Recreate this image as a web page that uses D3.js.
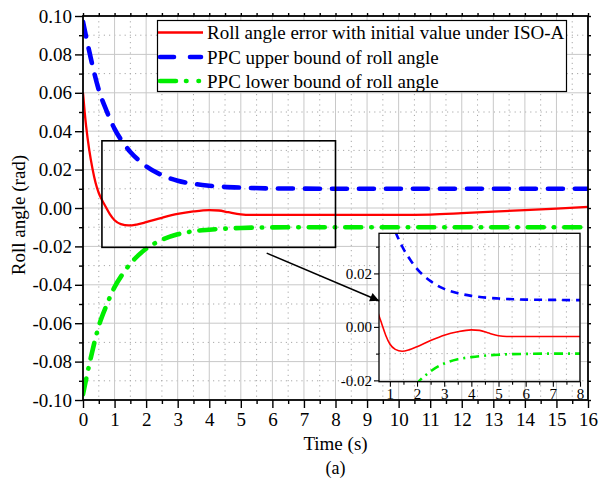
<!DOCTYPE html>
<html>
<head>
<meta charset="utf-8">
<script src="https://cdn.jsdelivr.net/npm/d3@7/dist/d3.min.js"></script>
<style>
  html, body { margin: 0; padding: 0; background: #fff; }
  svg { display: block; }
  svg text { font-family: "Liberation Serif", "Times New Roman", serif; fill: #000; }
</style>
</head>
<body>
<svg id="chart" width="599" height="485" font-family="Liberation Serif, Times New Roman, serif"></svg>
<script>
// ---------------- DATA ----------------
const timeBound = [0, 0.25, 0.5, 0.75, 1, 1.25, 1.5, 1.75, 2, 2.5, 3, 3.5, 4, 5, 6, 7, 8, 10, 12, 14, 16];
const upperBound = [0.097, 0.0778, 0.0615, 0.0505, 0.0412, 0.0345, 0.0292, 0.0251, 0.0217, 0.0171, 0.0142, 0.0126, 0.0116, 0.0106, 0.0102, 0.0101, 0.0100, 0.0100, 0.0100, 0.0100, 0.0100];
const lowerBound = [-0.097, -0.0778, -0.0615, -0.0505, -0.0412, -0.0345, -0.0290, -0.0247, -0.0212, -0.0166, -0.0137, -0.0121, -0.0113, -0.0104, -0.0101, -0.0100, -0.0100, -0.0100, -0.0100, -0.0100, -0.0100];

const timeError = [0, 0.05, 0.1, 0.2, 0.3, 0.4, 0.5, 0.6, 0.7, 0.85, 1.0, 1.2, 1.45, 1.7, 2.0, 2.5, 3.0, 3.5, 4.0, 4.3, 4.6, 5.0, 5.3, 6, 8, 10, 11, 12, 13, 14, 15, 16];
const rollError = [0.060, 0.0505, 0.0425, 0.0300, 0.0205, 0.0130, 0.0078, 0.0042, 0.0012, -0.0032, -0.0064, -0.0084, -0.0091, -0.0086, -0.0074, -0.0051, -0.0031, -0.0018, -0.0011, -0.0013, -0.0022, -0.0033, -0.0036, -0.0036, -0.0036, -0.0036, -0.0034, -0.0027, -0.0019, -0.0011, -0.0003, 0.0006];

const xTicks = d3.range(0, 17, 1);
const xMinor = d3.range(0.5, 16, 1);
const yTicks = [-0.10, -0.08, -0.06, -0.04, -0.02, 0.00, 0.02, 0.04, 0.06, 0.08, 0.10];
const yMinor = [-0.09, -0.07, -0.05, -0.03, -0.01, 0.01, 0.03, 0.05, 0.07, 0.09];

const insetXTicks = [1, 2, 3, 4, 5, 6, 7, 8];
const insetXMinor = [1.5, 2.5, 3.5, 4.5, 5.5, 6.5, 7.5];
const insetYTicks = [-0.02, 0.00, 0.02];
const insetYMinor = [-0.01, 0.01, 0.03];

const legendLabels = [
  "Roll angle error with initial value under ISO-A",
  "PPC upper bound of roll angle",
  "PPC lower bound of roll angle"
];
const xTitle = "Time (s)";
const yTitle = "Roll angle (rad)";
const caption = "(a)";

// zoom window and arrow annotation (data coords)
const zoomWin = { t0: 0.6, t1: 8, v0: -0.0205, v1: 0.035 };
const arrowFrom = [5.82, -0.0235];
const arrowTo = [9.38, -0.0483];

// ---------------- LAYOUT ----------------
const FONT = "Liberation Serif, Times New Roman, serif";
const svg = d3.select("#chart");
const M = { left: 83, right: 588, top: 16, bottom: 400 };
const x = d3.scaleLinear().domain([0, 16]).range([M.left, M.right]);
const y = d3.scaleLinear().domain([-0.10, 0.10]).range([M.bottom, M.top]);

const IN = { left: 379, right: 580, top: 233.3, bottom: 381.7 };
const xi = d3.scaleLinear().domain([zoomWin.t0, zoomWin.t1]).range([IN.left, IN.right]);
const yi = d3.scaleLinear().domain([zoomWin.v0, zoomWin.v1]).range([IN.bottom, IN.top]);

const COLORS = { err: "#ff0000", up: "#0000ff", low: "#00ee00" };
const GRID_SOLID = "#c8c8c8";
const GRID_DOT = "#a8a8a8";

const defs = svg.append("defs");
defs.append("clipPath").attr("id", "clipMain").append("rect")
  .attr("x", M.left).attr("y", M.top).attr("width", M.right - M.left).attr("height", M.bottom - M.top);
defs.append("clipPath").attr("id", "clipInset").append("rect")
  .attr("x", IN.left).attr("y", IN.top).attr("width", IN.right - IN.left).attr("height", IN.bottom - IN.top);
defs.append("marker").attr("id", "arrowHead")
  .attr("viewBox", "0 0 10 10").attr("refX", 10).attr("refY", 5)
  .attr("markerWidth", 12).attr("markerHeight", 9).attr("markerUnits", "userSpaceOnUse")
  .attr("orient", "auto")
  .append("path").attr("d", "M0,0 L10,5 L0,10 Z").attr("fill", "#000");

function grid(g, xs, ys, xMaj, xMin, yMaj, yMin, box) {
  const gg = g.append("g");
  xMin.forEach(t => gg.append("line").attr("x1", xs(t)).attr("x2", xs(t)).attr("y1", box.top).attr("y2", box.bottom)
    .attr("stroke", GRID_DOT).attr("stroke-width", 1).attr("stroke-dasharray", "1.2,4"));
  yMin.forEach(v => gg.append("line").attr("y1", ys(v)).attr("y2", ys(v)).attr("x1", box.left).attr("x2", box.right)
    .attr("stroke", GRID_DOT).attr("stroke-width", 1).attr("stroke-dasharray", "1.2,4"));
  xMaj.forEach(t => gg.append("line").attr("x1", xs(t)).attr("x2", xs(t)).attr("y1", box.top).attr("y2", box.bottom)
    .attr("stroke", GRID_SOLID).attr("stroke-width", 1));
  yMaj.forEach(v => gg.append("line").attr("y1", ys(v)).attr("y2", ys(v)).attr("x1", box.left).attr("x2", box.right)
    .attr("stroke", GRID_SOLID).attr("stroke-width", 1));
}

// ---------------- MAIN GRID ----------------
grid(svg, x, y, xTicks.slice(1, -1), xMinor, yTicks.slice(1, -1), yMinor, M);

// ---------------- MAIN LINES ----------------
const lineMain = (ts, vs) => d3.line().curve(d3.curveMonotoneX).x((d, i) => x(ts[i])).y(d => y(d))(vs);
const gMain = svg.append("g").attr("clip-path", "url(#clipMain)");
gMain.append("path").attr("d", lineMain(timeBound, upperBound))
  .attr("fill", "none").attr("stroke", COLORS.up).attr("stroke-width", 4.6)
  .attr("stroke-dasharray", "15,12").attr("stroke-linecap", "round");
gMain.append("path").attr("d", lineMain(timeBound, lowerBound))
  .attr("fill", "none").attr("stroke", COLORS.low).attr("stroke-width", 4.6)
  .attr("stroke-dasharray", "16,10,0.5,10").attr("stroke-linecap", "round");
gMain.append("path").attr("d", lineMain(timeError, rollError))
  .attr("fill", "none").attr("stroke", COLORS.err).attr("stroke-width", 2.3);

// zoom window rect
svg.append("rect")
  .attr("x", x(zoomWin.t0)).attr("y", y(zoomWin.v1))
  .attr("width", x(zoomWin.t1) - x(zoomWin.t0)).attr("height", y(zoomWin.v0) - y(zoomWin.v1))
  .attr("fill", "none").attr("stroke", "#000").attr("stroke-width", 1.6);

// ---------------- MAIN AXES ----------------
function styleAxis(g, size) {
  g.attr("font-family", FONT).attr("font-size", size || 19);
  g.select(".domain").remove();
  g.selectAll("line").attr("stroke", "#000").attr("stroke-width", 1.4);
  g.selectAll("text").attr("fill", "#000").attr("font-family", FONT).style("font-family", FONT);
  if (size) g.selectAll("text").style("font-size", size + "px");
}
const fmtY = d => (d < 0 ? "-" : "") + Math.abs(d).toFixed(2);

svg.append("g").attr("transform", `translate(0,${M.bottom})`)
  .call(d3.axisBottom(x).tickValues(xMinor).tickSize(4).tickFormat("")).call(styleAxis);
svg.append("g").attr("transform", `translate(0,${M.bottom})`)
  .call(d3.axisBottom(x).tickValues(xTicks).tickSize(8).tickPadding(5).tickFormat(d3.format("d")))
  .call(g => styleAxis(g, 19));

svg.append("g").attr("transform", `translate(${M.left},0)`)
  .call(d3.axisLeft(y).tickValues(yMinor).tickSize(4).tickFormat("")).call(styleAxis);
svg.append("g").attr("transform", `translate(${M.left},0)`)
  .call(d3.axisLeft(y).tickValues(yTicks).tickSize(8).tickPadding(3).tickFormat(fmtY))
  .call(g => styleAxis(g, 19));

svg.append("g").attr("transform", `translate(${M.right},0)`)
  .call(d3.axisRight(y).tickValues(yMinor.concat(yTicks)).tickSize(3).tickFormat("")).call(styleAxis);
svg.append("g").attr("transform", `translate(0,${M.top})`)
  .call(d3.axisTop(x).tickValues(xMinor.concat(xTicks)).tickSize(3).tickFormat("")).call(styleAxis);

// frame
svg.append("rect").attr("x", M.left).attr("y", M.top)
  .attr("width", M.right - M.left).attr("height", M.bottom - M.top)
  .attr("fill", "none").attr("stroke", "#000").attr("stroke-width", 1.8);

// titles
svg.append("text").attr("x", (M.left + M.right) / 2).attr("y", 450)
  .attr("text-anchor", "middle").style("font-size", "19px").text(xTitle);
svg.append("text").attr("transform", "translate(25,215) rotate(-90)")
  .attr("text-anchor", "middle").style("font-size", "19px").text(yTitle);
svg.append("text").attr("x", (M.left + M.right) / 2).attr("y", 474)
  .attr("text-anchor", "middle").style("font-size", "18px").text(caption);

// ---------------- LEGEND ----------------
const lg = svg.append("g");
lg.append("rect").attr("x", 157.5).attr("y", 20.5).attr("width", 409).attr("height", 71)
  .attr("fill", "#fff").attr("stroke", "#000").attr("stroke-width", 1.2);
const legendY = [32.5, 57, 81];
lg.append("line").attr("x1", 158).attr("x2", 203).attr("y1", legendY[0]).attr("y2", legendY[0])
  .attr("stroke", COLORS.err).attr("stroke-width", 2.3);
lg.append("line").attr("x1", 160).attr("x2", 201).attr("y1", legendY[1]).attr("y2", legendY[1])
  .attr("stroke", COLORS.up).attr("stroke-width", 4.6).attr("stroke-linecap", "round")
  .attr("stroke-dasharray", "14,16");
lg.append("line").attr("x1", 160).attr("x2", 201).attr("y1", legendY[2]).attr("y2", legendY[2])
  .attr("stroke", COLORS.low).attr("stroke-width", 4.6).attr("stroke-linecap", "round")
  .attr("stroke-dasharray", "16,10,0.5,12,0.5,30");
legendLabels.forEach((t, i) => lg.append("text").attr("x", 207).attr("y", legendY[i]).attr("dy", "0.36em")
  .style("font-size", "19px").text(t));

// ---------------- ARROW ----------------
svg.append("line")
  .attr("x1", x(arrowFrom[0])).attr("y1", y(arrowFrom[1]))
  .attr("x2", x(arrowTo[0])).attr("y2", y(arrowTo[1]))
  .attr("stroke", "#000").attr("stroke-width", 1.5).attr("marker-end", "url(#arrowHead)");

// ---------------- INSET ----------------
const gi = svg.append("g");
gi.append("rect").attr("x", IN.left).attr("y", IN.top)
  .attr("width", IN.right - IN.left).attr("height", IN.bottom - IN.top).attr("fill", "#fff");
grid(gi, xi, yi, insetXTicks, [1, ...insetXMinor], insetYTicks, insetYMinor, IN);

const lineInset = (ts, vs) => d3.line().curve(d3.curveMonotoneX).x((d, i) => xi(ts[i])).y(d => yi(d))(vs);
const gic = gi.append("g").attr("clip-path", "url(#clipInset)");
gic.append("path").attr("d", lineInset(timeBound, upperBound))
  .attr("fill", "none").attr("stroke", COLORS.up).attr("stroke-width", 2.6)
  .attr("stroke-dasharray", "8,6").attr("stroke-linecap", "butt");
gic.append("path").attr("d", lineInset(timeBound, lowerBound))
  .attr("fill", "none").attr("stroke", COLORS.low).attr("stroke-width", 2.6)
  .attr("stroke-dasharray", "9,5,2,5");
gic.append("path").attr("d", lineInset(timeError, rollError))
  .attr("fill", "none").attr("stroke", COLORS.err).attr("stroke-width", 1.6);

gi.append("g").attr("transform", `translate(0,${IN.bottom})`)
  .call(d3.axisBottom(xi).tickValues(insetXMinor).tickSize(3).tickFormat("")).call(styleAxis);
gi.append("g").attr("transform", `translate(0,${IN.bottom})`)
  .call(d3.axisBottom(xi).tickValues(insetXTicks).tickSize(5).tickPadding(2).tickFormat(d3.format("d")))
  .call(g => styleAxis(g, 15));
gi.append("g").attr("transform", `translate(${IN.left},0)`)
  .call(d3.axisLeft(yi).tickValues(insetYMinor).tickSize(3).tickFormat("")).call(styleAxis);
gi.append("g").attr("transform", `translate(${IN.left},0)`)
  .call(d3.axisLeft(yi).tickValues(insetYTicks).tickSize(5).tickPadding(2).tickFormat(fmtY))
  .call(g => styleAxis(g, 15));
gi.selectAll(".tick line").attr("stroke-width", 1.1);

gi.append("rect").attr("x", IN.left).attr("y", IN.top)
  .attr("width", IN.right - IN.left).attr("height", IN.bottom - IN.top)
  .attr("fill", "none").attr("stroke", "#000").attr("stroke-width", 1.3);
</script>
</body>
</html>
